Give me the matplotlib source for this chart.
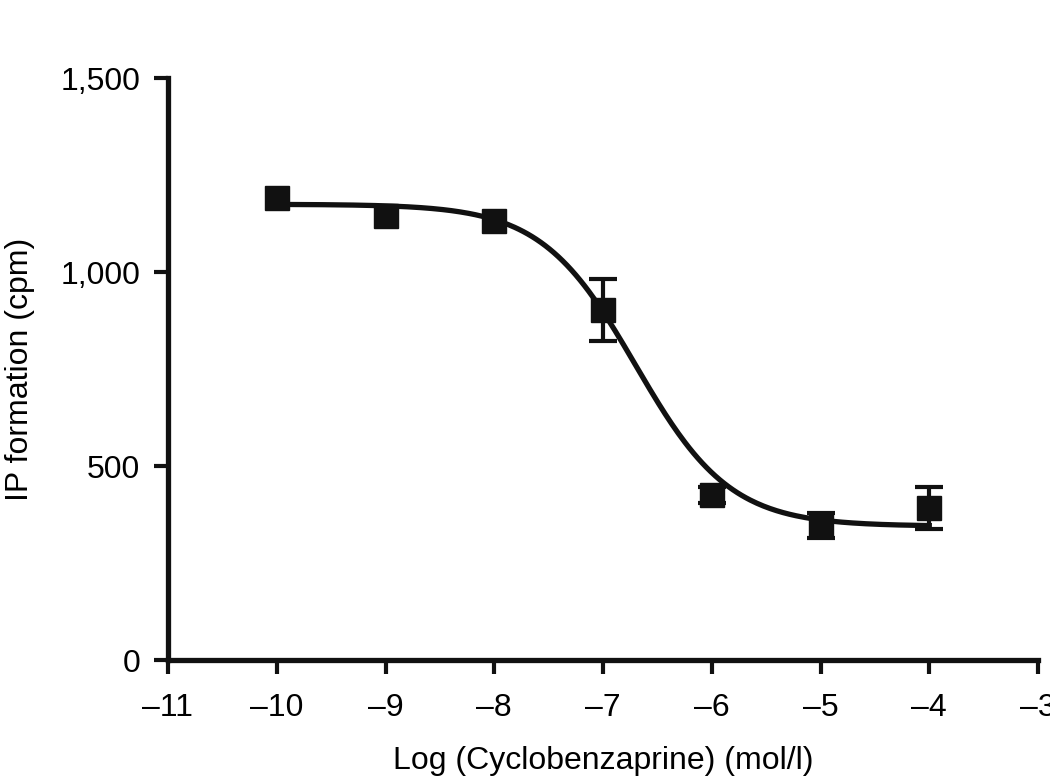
import numpy as np
import matplotlib
matplotlib.use("Agg")
import matplotlib.pyplot as plt

plt.rcParams['font.family'] = ['Liberation Sans', 'DejaVu Sans']

# measured points
log_conc = [-10, -9, -8, -7, -6, -5, -4]
ip_mean = [1192, 1144, 1131, 902, 426, 346, 392]
ip_err = [0, 0, 0, 80, 20, 32, 55]

# fitted sigmoid
fit_top = 1175
fit_bottom = 345
fit_logec50 = -6.7
fit_hill = 1.0

yticks = [0, 500, 1000, 1500]
yticklabels = ['0', '500', '1,000', '1,500']
xticks = [-11, -10, -9, -8, -7, -6, -5, -4, -3]

fig = plt.figure(figsize=(10.5, 7.82), dpi=100)
ax = fig.add_axes([0.16, 0.156, 0.8286, 0.744])

xs = np.linspace(log_conc[0], log_conc[-1], 300)
curve = fit_bottom + (fit_top - fit_bottom) / (1 + 10 ** ((xs - fit_logec50) * fit_hill))
ax.plot(xs, curve, color='#111111', lw=3.8, zorder=2)

ax.plot(log_conc, ip_mean, 's', color='#111111', markersize=17, zorder=3)
ex = [x for x, e in zip(log_conc, ip_err) if e > 0]
ey = [y for y, e in zip(ip_mean, ip_err) if e > 0]
ee = [e for e in ip_err if e > 0]
ax.errorbar(ex, ey, yerr=ee, fmt='none', ecolor='#111111',
            elinewidth=3, capsize=10, capthick=3, zorder=3)

ax.set_xlim(-11, -3)
ax.set_ylim(0, 1500)
ax.set_xticks(xticks)
ax.set_xticklabels(['\u2013' + str(-v) for v in xticks])
ax.set_yticks(yticks)
ax.set_yticklabels(yticklabels)

for s in ['top', 'right']:
    ax.spines[s].set_visible(False)
for s in ['left', 'bottom']:
    ax.spines[s].set_linewidth(3.8)
    ax.spines[s].set_color('#111111')
ax.tick_params(axis='both', length=10, width=3, color='#111111', labelsize=23)
ax.tick_params(axis='x', pad=14)
ax.tick_params(axis='y', pad=10)

ax.set_xlabel('Log (Cyclobenzaprine) (mol/l)', fontsize=23, labelpad=16)
ax.set_ylabel('IP formation (cpm)', fontsize=23, labelpad=18)

fig.savefig('out.png', dpi=100)
